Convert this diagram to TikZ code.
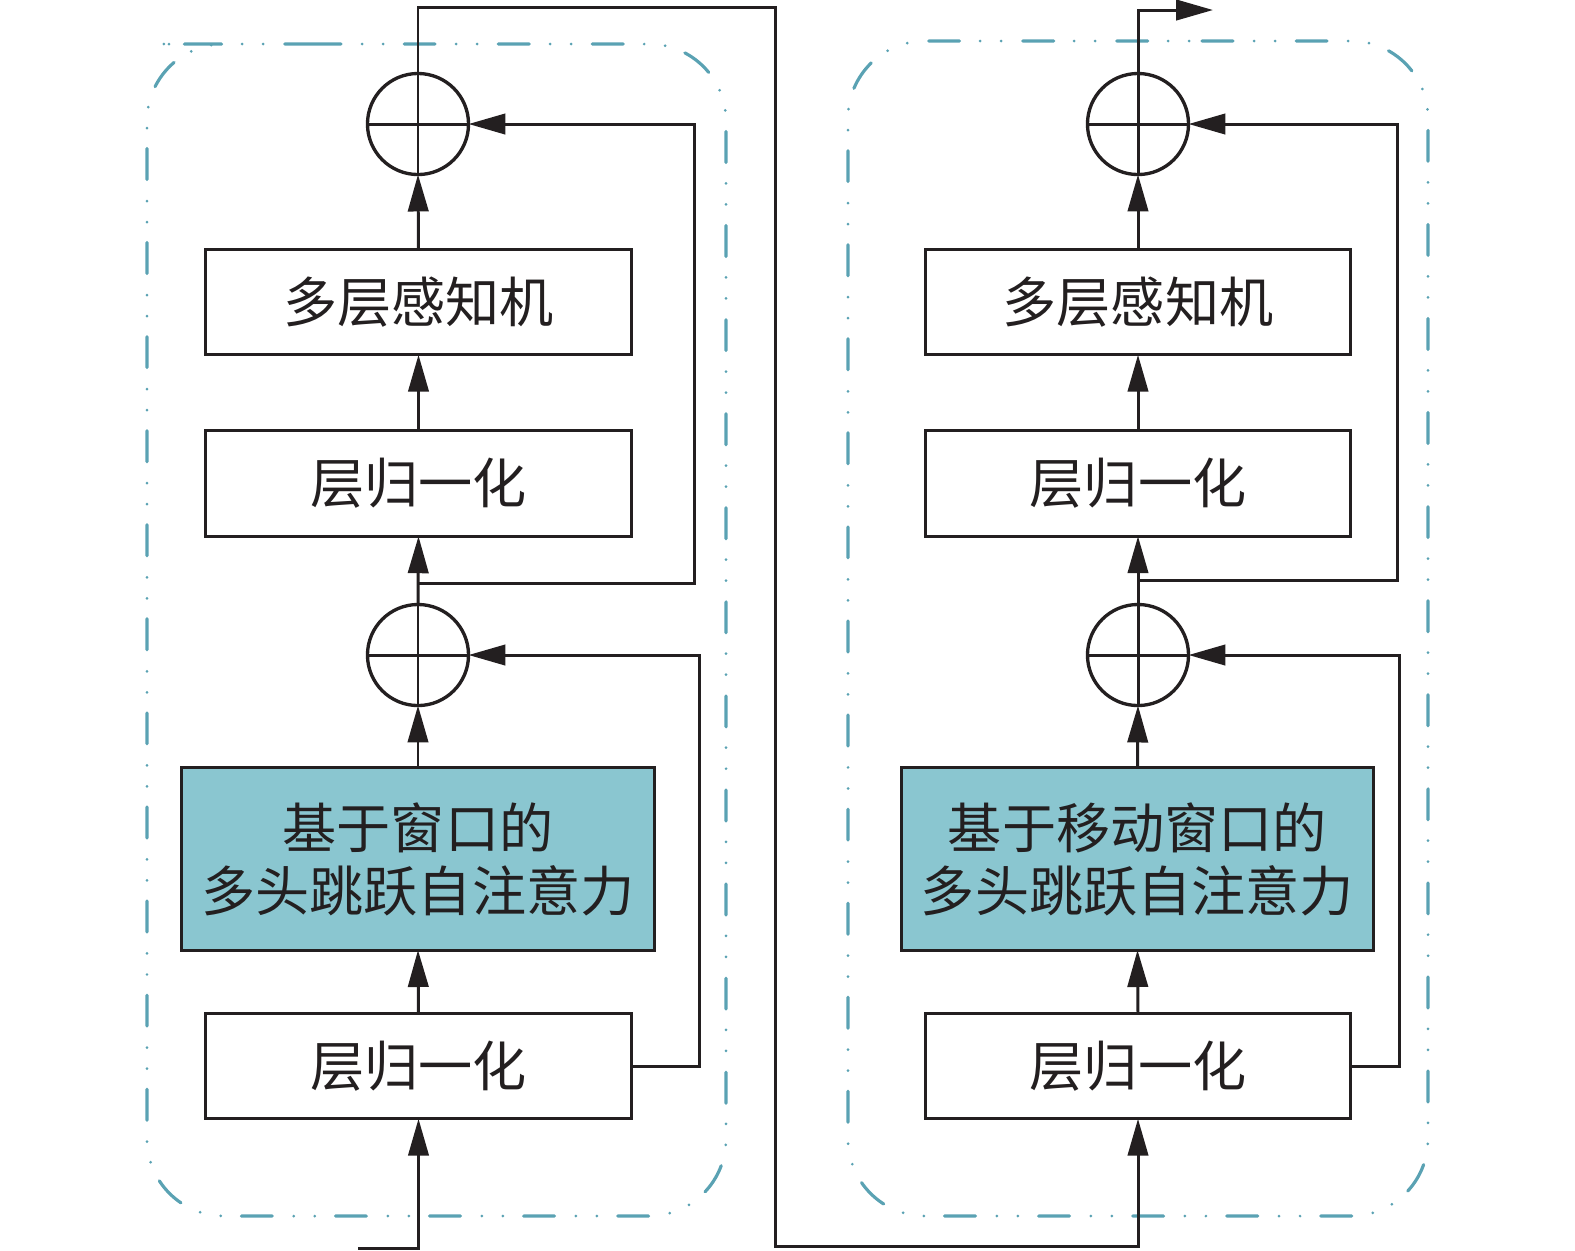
\documentclass[tikz,border=0pt]{standalone}
\usepackage{fontspec}
\newfontfamily\cjk{Noto Sans CJK SC}
\usetikzlibrary{arrows.meta}
\definecolor{linec}{HTML}{231F20}
\definecolor{dashc}{HTML}{5AA2B3}
\definecolor{attnc}{HTML}{8AC6D0}
\begin{document}
\begin{tikzpicture}[x=0.01cm,y=-0.01cm,
  txt/.style={font=\cjk\fontsize{15.4pt}{17.9pt}\selectfont, text=linec},
  blk/.style={txt, draw=linec, line width=0.85pt, rectangle, inner sep=0pt, outer sep=0pt, minimum width=4.25cm, minimum height=1.055cm},
  attn/.style={blk, fill=attnc, minimum width=4.72cm, minimum height=1.82cm, align=center},
  addc/.style={draw=linec, line width=0.95pt, circle, inner sep=0pt, outer sep=0pt, minimum size=1.01cm},
  conn/.style={draw=linec, line width=0.85pt},
  arr/.style={conn, -{Triangle[length=10.5pt,width=5.8pt]}},
  frameD/.style={draw=dashc, line width=0.9pt, line cap=round, rounded corners=0.77cm, dash pattern=on 8.82pt off 17.93pt},
  frameP/.style={draw=dashc, line width=0.85pt, line cap=round, rounded corners=0.77cm, dash pattern=on 0pt off 5.975pt on 0pt off 20.77pt, dash phase=11.95pt},
]
\useasboundingbox (0,0) rectangle (1575,1250);

% dashed frames
\path[frameD] (233,44) -- (726,44) -- (726,1216) -- (147,1216) -- (147,44) -- cycle;
\path[frameP] (233,44) -- (726,44) -- (726,1216) -- (147,1216) -- (147,44) -- cycle;
\path[frameD] (1125,41) -- (1428,41) -- (1428,1216) -- (848,1216) -- (848,41) -- cycle;
\path[frameP] (1125,41) -- (1428,41) -- (1428,1216) -- (848,1216) -- (848,41) -- cycle;

% left column
\node[blk] (Lmlp) at (418.5,302) {多层感知机};
\node[blk] (Lln2) at (418.5,483.5) {层归一化};
\node[attn] (Lattn) at (418,859) {基于窗口的\\多头跳跃自注意力};
\node[blk] (Lln1) at (418.5,1066) {层归一化};
\node[addc] (Ladd2) at (418,124) {};
\node[addc] (Ladd1) at (418,655) {};

% right column
\node[blk] (Rmlp) at (1138,302) {多层感知机};
\node[blk] (Rln2) at (1138,483.5) {层归一化};
\node[attn] (Rattn) at (1137.5,859) {基于移动窗口的\\多头跳跃自注意力};
\node[blk] (Rln1) at (1138,1066) {层归一化};
\node[addc] (Radd2) at (1138,124) {};
\node[addc] (Radd1) at (1138,655) {};

% plus signs
\foreach \c in {Ladd1,Ladd2,Radd1,Radd2}{
  \draw[conn] (\c.north) -- (\c.south) (\c.west) -- (\c.east);
}

% coordinates
\coordinate (inp) at (358,1248);
\coordinate (Lbr) at (418,583);
\coordinate (Rbr) at (1138,580);
\coordinate (out) at (1213,10);

% left main flow
\draw[arr] (inp) -| (Lln1.south);
\draw[arr] (Lln1.north) -- (Lattn.south);
\draw[arr] (Lattn.north) -- (Ladd1.south);
\draw[arr] (Ladd1.north) -- (Lln2.south);
\draw[arr] (Lln2.north) -- (Lmlp.south);
\draw[arr] (Lmlp.north) -- (Ladd2.south);
% left skips
\draw[arr] (Lln1.east) -- (699,1066) |- (Ladd1.east);
\draw[arr] (Lbr) -- (694,583) |- (Ladd2.east);

% link between blocks
\draw[arr] (Ladd2.north) -- (418,7) -- (775,7) -- (775,1246) -| (Rln1.south);

% right main flow
\draw[arr] (Rln1.north) -- (Rattn.south);
\draw[arr] (Rattn.north) -- (Radd1.south);
\draw[arr] (Radd1.north) -- (Rln2.south);
\draw[arr] (Rln2.north) -- (Rmlp.south);
\draw[arr] (Rmlp.north) -- (Radd2.south);
% right skips
\draw[arr] (Rln1.east) -- (1399,1066) |- (Radd1.east);
\draw[arr] (Rbr) -- (1397,580) |- (Radd2.east);
% output
\draw[arr] (Radd2.north) |- (out);
\end{tikzpicture}
\end{document}
